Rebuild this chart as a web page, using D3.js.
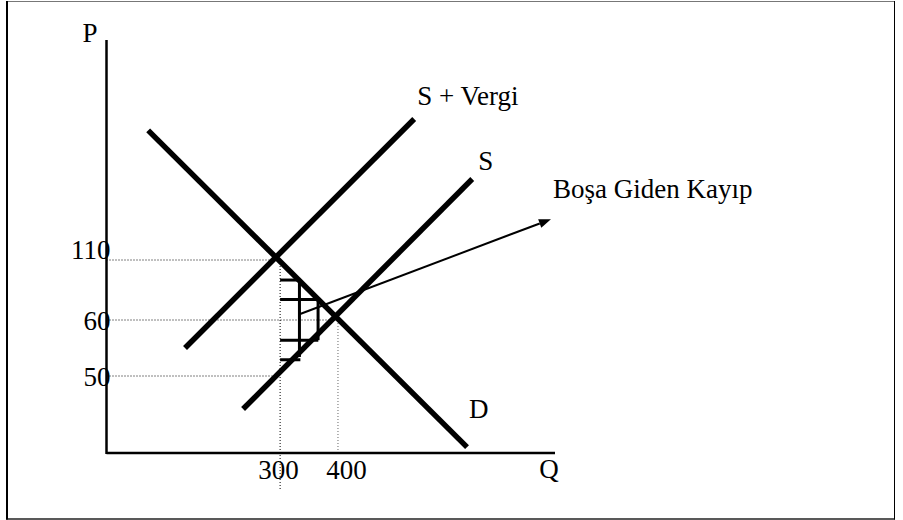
<!DOCTYPE html>
<html><head><meta charset="utf-8">
<script src="https://cdn.jsdelivr.net/npm/d3@7"></script>
<style>
html,body{margin:0;padding:0;background:#fff;}
svg{display:block;font-family:"Liberation Serif","Times New Roman",serif;}
</style></head>
<body>
<script>
// ---- data (schematic tax / deadweight-loss diagram) ----
const qTicks = [300, 400];
const pTicks = [110, 60, 50];
const qMax = 775;
// line endpoints [Q, P]
const demand    = [[72, 218], [623, 37.3]];
const supply    = [[236, 44.1], [632, 177.5]];
const supplyTax = [[135.7, 55], [531.7, 227.5]];
// deadweight-loss hatch: horizontal [q0, q1, p], vertical [q, p0, p1]
const hatchH = [[300, 333, 93.3], [300, 366, 77], [300, 366, 56.4], [300, 335, 52.9]];
const hatchV = [[333.4, 93.3, 53.4], [365.6, 77, 56.4]];
const dwlArrow = [[334.6, 65], [768, 144]];
// guides: price guide to quantity, quantity guide from price
const pGuides = [[110, 300], [60, 400], [50, 300]];
const qGuides = [[300, 110], [400, 60]];
const labels = { supplyTax: "S + Vergi", supply: "S", demand: "D", dwl: "Boşa Giden Kayıp", p: "P", q: "Q" };

// ---- layout ----
const W = 903, H = 520;
const left = 106.5, right = 555, axisTop = 40, axisBottom = 453;
const fs = 27;

const svg = d3.select("body").append("svg").attr("width", W).attr("height", H);

const x = d3.scaleLinear().domain([0, qMax]).range([left, right]);
// schematic (non-proportional) price axis, piecewise linear
const y = d3.scaleLinear().domain([50, 60, 110]).range([376, 320, 260]);

// frame
svg.append("line").attr("x1", 6).attr("x2", 895).attr("y1", 1.5).attr("y2", 1.5).attr("stroke", "#777").attr("stroke-width", 1);
svg.append("line").attr("x1", 6).attr("x2", 895).attr("y1", 519).attr("y2", 519).attr("stroke", "#222").attr("stroke-width", 1.5);
svg.append("line").attr("x1", 7).attr("x2", 7).attr("y1", 1).attr("y2", 519.5).attr("stroke", "#000").attr("stroke-width", 2);
svg.append("line").attr("x1", 894.5).attr("x2", 894.5).attr("y1", 1).attr("y2", 519.5).attr("stroke", "#000").attr("stroke-width", 1);

// dotted guides
const g = svg.append("g");
pGuides.forEach(([p, q]) => {
  g.append("line").attr("x1", left).attr("x2", x(q)).attr("y1", y(p)).attr("y2", y(p))
    .attr("stroke", "#000").attr("stroke-width", 1).attr("stroke-dasharray", "1,2");
});
qGuides.forEach(([q, p], i) => {
  g.append("line").attr("x1", x(q)).attr("x2", x(q)).attr("y1", y(p)).attr("y2", i === 0 ? 490 : axisBottom)
    .attr("stroke", i === 0 ? "#000" : "#666").attr("stroke-width", 1).attr("stroke-dasharray", "1,2");
});

// axes
const xAxis = d3.axisBottom(x).tickValues(qTicks).tickSize(0).tickPadding(0).tickFormat(d3.format("d"));
const xg = svg.append("g").attr("transform", `translate(0,${axisBottom})`).call(xAxis);
xg.select(".domain").remove();
xg.selectAll("text").attr("font-size", fs).attr("font-family", "Liberation Serif").attr("fill", "#000")
  .attr("dy", null).attr("y", 26).attr("dx", d => d === 300 ? -2 : 8);

const yAxis = d3.axisLeft(y).tickValues(pTicks).tickSize(0).tickPadding(0);
const yg = svg.append("g").attr("transform", `translate(${left},0)`).call(yAxis);
yg.select(".domain").remove();
yg.selectAll("text").attr("font-size", fs).attr("font-family", "Liberation Serif").attr("fill", "#000")
  .attr("text-anchor", "end").attr("x", 4)
  .attr("dy", d => d === 110 ? "-0.05em" : "0.35em");

svg.append("line").attr("x1", left).attr("x2", left).attr("y1", axisTop).attr("y2", axisBottom + 1)
  .attr("stroke", "#000").attr("stroke-width", 2.5);
svg.append("line").attr("x1", left).attr("x2", right).attr("y1", axisBottom).attr("y2", axisBottom)
  .attr("stroke", "#000").attr("stroke-width", 2.5);

svg.append("text").attr("x", 90).attr("y", 41.5).attr("text-anchor", "middle").attr("font-size", fs).text(labels.p);
svg.append("text").attr("x", x(qMax) - 6).attr("y", 478).attr("text-anchor", "middle").attr("font-size", fs).text(labels.q);

// hatch
hatchH.forEach(([q0, q1, p]) => {
  svg.append("line").attr("x1", x(q0)).attr("x2", x(q1)).attr("y1", y(p)).attr("y2", y(p))
    .attr("stroke", "#000").attr("stroke-width", 3);
});
hatchV.forEach(([q, p0, p1]) => {
  svg.append("line").attr("x1", x(q)).attr("x2", x(q)).attr("y1", y(p0)).attr("y2", y(p1))
    .attr("stroke", "#000").attr("stroke-width", 3);
});

// main lines
const line = d3.line().x(d => x(d[0])).y(d => y(d[1]));
[demand, supply, supplyTax].forEach(d => {
  svg.append("path").attr("d", line(d)).attr("fill", "none").attr("stroke", "#000").attr("stroke-width", 5.5);
});

// arrow
const a0 = [x(dwlArrow[0][0]), y(dwlArrow[0][1])], a1 = [x(dwlArrow[1][0]), y(dwlArrow[1][1])];
const ang = Math.atan2(a1[1] - a0[1], a1[0] - a0[0]);
const hl = 12, hw = 4.5;
const base = [a1[0] - hl * Math.cos(ang), a1[1] - hl * Math.sin(ang)];
svg.append("line").attr("x1", a0[0]).attr("y1", a0[1]).attr("x2", base[0]).attr("y2", base[1])
  .attr("stroke", "#000").attr("stroke-width", 2);
svg.append("path").attr("d", `M${a1[0]},${a1[1]}L${base[0] + hw * Math.sin(ang)},${base[1] - hw * Math.cos(ang)}L${base[0] - hw * Math.sin(ang)},${base[1] + hw * Math.cos(ang)}Z`)
  .attr("fill", "#000");

// line labels
const end = d => [x(d[1][0]), y(d[1][1])];
const eT = end(supplyTax), eS = end(supply), eD = end(demand);
svg.append("text").attr("x", eT[0] + 3).attr("y", eT[1] - 14).attr("font-size", fs).text(labels.supplyTax);
svg.append("text").attr("x", eS[0] + 6).attr("y", eS[1] - 9).attr("font-size", fs).text(labels.supply);
svg.append("text").attr("x", eD[0] + 2).attr("y", eD[1] - 29).attr("font-size", fs).text(labels.demand);
svg.append("text").attr("x", a1[0] + 2).attr("y", a1[1] - 21).attr("font-size", fs).text(labels.dwl);
</script>
</body></html>
